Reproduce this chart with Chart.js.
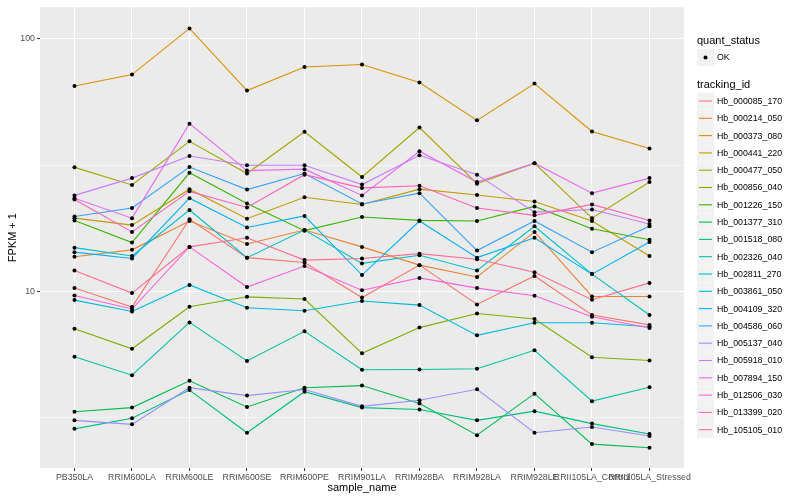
<!DOCTYPE html>
<html>
<head>
<meta charset="utf-8">
<script src="https://cdn.jsdelivr.net/npm/chart.js@4.4.0/dist/chart.umd.min.js"></script>
<style>
  body { margin: 0; background: #fff; }
  #grafico { display: block; }
</style>
</head>
<body>
<canvas id="grafico" width="800" height="500"></canvas>
<script>
// muestras (eje x)
const categories = ['PB350LA', 'RRIM600LA', 'RRIM600LE', 'RRIM600SE', 'RRIM600PE', 'RRIM901LA',
  'RRIM928BA', 'RRIM928LA', 'RRIM928LE', 'RRII105LA_Control', 'RRII105LA_Stressed'];

const trackingIds = ['Hb_000085_170', 'Hb_000214_050', 'Hb_000373_080', 'Hb_000441_220', 'Hb_000477_050',
  'Hb_000856_040', 'Hb_001226_150', 'Hb_001377_310', 'Hb_001518_080', 'Hb_002326_040',
  'Hb_002811_270', 'Hb_003861_050', 'Hb_004109_320', 'Hb_004586_060', 'Hb_005137_040',
  'Hb_005918_010', 'Hb_007894_150', 'Hb_012506_030', 'Hb_013399_020', 'Hb_105105_010'];

const quantStatus = ['OK'];

// FPKM + 1 por gen, en el orden de categories
const hb_000085_170 = [10.3, 8.66, 19.3, 13.6, 13.0, 9.45, 12.7, 8.87, 11.5, 8.06, 7.36];
const hb_000214_050 = [13.7, 14.6, 19.0, 15.4, 17.5, 15.0, 12.7, 11.4, 17.2, 9.54, 9.54];
const hb_000373_080 = [65.1, 72.3, 110.2, 62.5, 77.5, 79.2, 67.2, 47.6, 66.6, 43.0, 36.8];
const hb_000441_220 = [19.5, 18.3, 25.4, 19.4, 23.6, 22.1, 25.4, 24.1, 22.7, 19.0, 13.8];
const hb_000477_050 = [31.0, 26.4, 39.3, 29.3, 42.9, 28.4, 44.6, 26.7, 32.2, 19.5, 27.1];
const hb_000856_040 = [7.11, 5.92, 8.69, 9.51, 9.32, 5.68, 7.18, 8.17, 7.77, 5.48, 5.32];
const hb_001226_150 = [19.1, 15.6, 29.5, 22.3, 17.4, 19.7, 19.1, 19.0, 21.7, 17.7, 16.0];
const hb_001377_310 = [3.33, 3.46, 4.42, 3.48, 4.15, 4.23, 3.59, 2.69, 3.93, 2.48, 2.40];
const hb_001518_080 = [2.85, 3.14, 4.06, 2.75, 4.00, 3.46, 3.40, 3.08, 3.35, 2.99, 2.72];
const hb_002326_040 = [5.50, 4.65, 7.53, 5.30, 6.94, 4.89, 4.90, 4.93, 5.84, 3.67, 4.17];
const hb_002811_270 = [14.9, 13.8, 21.0, 13.6, 17.5, 12.9, 13.9, 12.1, 18.1, 11.7, 8.06];
const hb_003861_050 = [9.23, 8.32, 10.6, 8.61, 8.38, 9.15, 8.82, 6.69, 7.51, 7.51, 7.24];
const hb_004109_320 = [14.3, 13.5, 23.4, 17.9, 19.9, 11.6, 19.0, 13.6, 16.3, 11.7, 15.7];
const hb_004586_060 = [19.8, 21.4, 31.1, 25.3, 29.3, 22.2, 24.5, 14.5, 19.0, 14.3, 18.1];
const hb_005137_040 = [3.08, 2.97, 4.15, 3.86, 4.08, 3.50, 3.70, 4.09, 2.75, 2.90, 2.67];
const hb_005918_010 = [24.0, 28.1, 34.4, 31.6, 31.6, 26.5, 34.6, 29.0, 20.6, 21.1, 18.5];
const hb_007894_150 = [23.4, 19.5, 46.2, 30.1, 30.5, 24.0, 35.9, 27.1, 32.2, 24.5, 28.1];
const hb_012506_030 = [9.63, 8.51, 15.0, 10.4, 12.6, 10.1, 11.3, 10.3, 9.60, 7.93, 7.16];
const hb_013399_020 = [23.1, 17.2, 24.9, 21.5, 29.0, 25.7, 26.2, 21.4, 20.0, 22.1, 19.1];
const hb_105105_010 = [12.1, 9.84, 15.0, 16.3, 13.3, 13.5, 14.1, 13.4, 11.9, 9.26, 10.8];

const seriesValues = [hb_000085_170, hb_000214_050, hb_000373_080, hb_000441_220, hb_000477_050,
  hb_000856_040, hb_001226_150, hb_001377_310, hb_001518_080, hb_002326_040,
  hb_002811_270, hb_003861_050, hb_004109_320, hb_004586_060, hb_005137_040,
  hb_005918_010, hb_007894_150, hb_012506_030, hb_013399_020, hb_105105_010];

// paleta hue de ggplot para 20 niveles
const hueColors = ['#F8766D', '#EA8331', '#D89000', '#C09B00', '#A3A500', '#7CAE00', '#39B600', '#00BB4E',
  '#00BF7D', '#00C1A3', '#00BFC4', '#00BAE0', '#00B0F6', '#35A2FF', '#9590FF', '#C77CFF',
  '#E76BF3', '#FA62DB', '#FF62BC', '#FF6C91'];

// eje y (log): lineas mayores y menores
const yTicks = [3.1623, 10, 31.623, 100];
const yTickLabels = ['', '10', '', '100'];
const yMajor = [false, true, false, true];

const FUENTE = "'Liberation Sans', Arial, sans-serif";

// fondo gris del panel
const fondoPanel = {
  id: 'fondoPanel',
  beforeDraw(chart) {
    const { ctx, chartArea: a } = chart;
    ctx.save();
    ctx.fillStyle = '#EBEBEB';
    ctx.fillRect(a.left, a.top, a.right - a.left, a.bottom - a.top);
    ctx.restore();
  }
};

// leyenda estilo ggplot (dos bloques)
const leyenda = {
  id: 'leyenda',
  afterDraw(chart) {
    const ctx = chart.ctx;
    const x0 = 697;
    ctx.save();
    ctx.textBaseline = 'middle';
    ctx.textAlign = 'left';

    ctx.fillStyle = '#000';
    ctx.font = '11px ' + FUENTE;
    ctx.fillText('quant_status', x0, 41);
    ctx.fillStyle = '#F2F2F2';
    ctx.fillRect(x0, 49, 17, 17);
    ctx.fillStyle = '#000';
    ctx.beginPath();
    ctx.arc(x0 + 8.5, 57.5, 2, 0, Math.PI * 2);
    ctx.fill();
    ctx.font = '8.8px ' + FUENTE;
    ctx.fillText(quantStatus[0], x0 + 20, 58);

    ctx.font = '11px ' + FUENTE;
    ctx.fillText('tracking_id', x0, 85);
    ctx.font = '8.8px ' + FUENTE;
    trackingIds.forEach((id, i) => {
      const yc = 101 + i * 17.3;
      ctx.fillStyle = '#F2F2F2';
      ctx.fillRect(x0, yc - 8.5, 17, 17);
      ctx.strokeStyle = hueColors[i];
      ctx.lineWidth = 1.1;
      ctx.beginPath();
      ctx.moveTo(x0 + 2, yc);
      ctx.lineTo(x0 + 15, yc);
      ctx.stroke();
      ctx.fillStyle = '#000';
      ctx.fillText(id, x0 + 20, yc + 0.5);
    });
    ctx.restore();
  }
};

const n = trackingIds.length;
const lineas = trackingIds.map((id, i) => ({
  label: id,
  data: seriesValues[i].map((v, j) => ({ x: j, y: v })),
  borderColor: hueColors[i],
  backgroundColor: hueColors[i],
  borderWidth: 1.1,
  pointRadius: 0,
  fill: false,
  tension: 0,
  order: n - i + 1
}));
const puntos = trackingIds.map((id, i) => ({
  label: id + ' OK',
  data: seriesValues[i].map((v, j) => ({ x: j, y: v })),
  showLine: false,
  pointRadius: 2,
  pointBackgroundColor: '#000',
  pointBorderWidth: 0,
  order: 0
}));

const chart = new Chart(document.getElementById('grafico').getContext('2d'), {
  type: 'line',
  data: { datasets: [...lineas, ...puntos] },
  plugins: [fondoPanel, leyenda],
  options: {
    responsive: false,
    animation: false,
    events: [],
    layout: { padding: { left: 0, top: 5, right: 116, bottom: 0 } },
    plugins: { legend: { display: false }, tooltip: { enabled: false } },
    scales: {
      x: {
        type: 'linear',
        min: -0.6,
        max: 10.6,
        afterBuildTicks: s => { s.ticks = categories.map((c, i) => ({ value: i })); },
        afterFit: s => { s.height = 32; },
        border: { display: false },
        grid: { color: '#FFFFFF', lineWidth: 1.07, tickLength: 3, tickColor: '#333333', tickWidth: 1 },
        ticks: {
          autoSkip: false, maxRotation: 0, minRotation: 0, padding: 1,
          color: '#4D4D4D', font: { family: FUENTE, size: 8.8 },
          callback: v => categories[v]
        },
        title: { display: true, text: 'sample_name', color: '#000', font: { family: FUENTE, size: 11 }, padding: { top: 2, bottom: 5 } }
      },
      y: {
        type: 'logarithmic',
        min: 1.994,
        max: 133.6,
        afterBuildTicks: s => { s.ticks = yTicks.map(v => ({ value: v })); },
        afterFit: s => { s.width = 40; },
        border: { display: false },
        grid: {
          color: '#FFFFFF',
          lineWidth: c => (c.index !== undefined && yMajor[c.index]) ? 1.07 : 0.55,
          tickLength: 3,
          tickColor: c => (c.index !== undefined && yMajor[c.index]) ? '#333333' : 'rgba(0,0,0,0)',
          tickWidth: 1
        },
        ticks: {
          padding: 2, color: '#4D4D4D', font: { family: FUENTE, size: 8.8 },
          callback: (v, i) => yTickLabels[i]
        },
        title: { display: true, text: 'FPKM + 1', color: '#000', font: { family: FUENTE, size: 11 }, padding: { top: 6, bottom: 2 } }
      }
    }
  }
});
</script>
</body>
</html>
